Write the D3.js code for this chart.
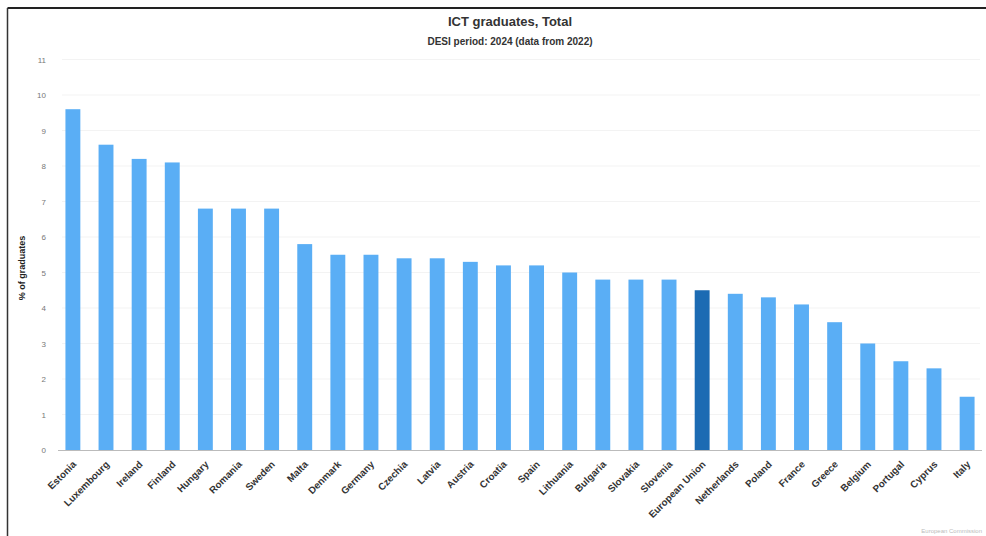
<!DOCTYPE html>
<html>
<head>
<meta charset="utf-8">
<script src="https://cdn.jsdelivr.net/npm/d3@7/dist/d3.min.js"></script>
<style>
  html, body { margin: 0; padding: 0; background: #fff; }
  svg { display: block; font-family: "Liberation Sans", Arial, sans-serif; }
</style>
</head>
<body>
<svg id="chart" width="986" height="536"></svg>
<script>
// ICT graduates as a share of all graduates, by country
const countries = ["Estonia", "Luxembourg", "Ireland", "Finland", "Hungary", "Romania", "Sweden",
  "Malta", "Denmark", "Germany", "Czechia", "Latvia", "Austria", "Croatia", "Spain", "Lithuania",
  "Bulgaria", "Slovakia", "Slovenia", "European Union", "Netherlands", "Poland", "France",
  "Greece", "Belgium", "Portugal", "Cyprus", "Italy"];
const values = [9.6, 8.6, 8.2, 8.1, 6.8, 6.8, 6.8, 5.8, 5.5, 5.5, 5.4, 5.4, 5.3, 5.2, 5.2, 5.0,
  4.8, 4.8, 4.8, 4.5, 4.4, 4.3, 4.1, 3.6, 3.0, 2.5, 2.3, 1.5];
const yTicks = [0, 1, 2, 3, 4, 5, 6, 7, 8, 9, 10, 11];
const highlight = "European Union";

const svg = d3.select("#chart");
const W = 986, H = 536;

// frame lines
svg.append("line").attr("x1", 7.5).attr("x2", W).attr("y1", 8).attr("y2", 8)
  .attr("stroke", "#222").attr("stroke-width", 2);
svg.append("line").attr("x1", 7.5).attr("x2", 7.5).attr("y1", 8).attr("y2", H)
  .attr("stroke", "#333").attr("stroke-width", 1.5);

const x = d3.scaleBand().domain(countries).range([56.5, 983.5]).paddingInner(0.55).paddingOuter(0.27);
const y = d3.scaleLinear().domain([0, 11]).range([450, 59.5]);

// grid
svg.append("g").selectAll("line").data(yTicks.filter(d => d > 0)).join("line")
  .attr("x1", 62).attr("x2", 980)
  .attr("y1", d => y(d)).attr("y2", d => y(d))
  .attr("stroke", "#f3f3f3").attr("stroke-width", 1);

// y axis labels
const yAxis = d3.axisLeft(y).tickValues(yTicks).tickSize(0).tickPadding(0);
const gy = svg.append("g").attr("transform", "translate(46,0)").call(yAxis);
gy.select(".domain").remove();
gy.selectAll("text").attr("fill", "#777").style("font-size", "8px");

// bars
svg.append("g").selectAll("rect").data(countries).join("rect")
  .attr("x", d => x(d))
  .attr("width", x.bandwidth())
  .attr("y", (d, i) => y(values[i]))
  .attr("height", (d, i) => y(0) - y(values[i]))
  .attr("fill", d => d === highlight ? "#1c6bb3" : "#5aaef5");

// baseline
svg.append("line").attr("x1", 58).attr("x2", 982).attr("y1", 450.5).attr("y2", 450.5)
  .attr("stroke", "#bbb").attr("stroke-width", 1);

// x axis labels
const xAxis = d3.axisBottom(x).tickSize(0).tickPadding(0);
const gx = svg.append("g").attr("transform", "translate(0,455)").call(xAxis);
gx.select(".domain").remove();
gx.selectAll("text")
  .attr("text-anchor", "end")
  .attr("dy", "0")
  .attr("transform", "translate(4,10) rotate(-45)")
  .attr("fill", "#333")
  .style("font-size", "9.8px")
  .style("font-weight", "bold");

// y axis title
svg.append("text")
  .attr("transform", "translate(25,268) rotate(-90)")
  .attr("text-anchor", "middle")
  .attr("fill", "#222")
  .style("font-size", "9px")
  .style("font-weight", "bold")
  .text("% of graduates");

// titles
svg.append("text").attr("x", 510).attr("y", 26).attr("text-anchor", "middle")
  .attr("fill", "#333").style("font-size", "13px").style("font-weight", "bold")
  .text("ICT graduates, Total");
svg.append("text").attr("x", 510).attr("y", 45).attr("text-anchor", "middle")
  .attr("fill", "#333").style("font-size", "10px").style("font-weight", "bold")
  .text("DESI period: 2024 (data from 2022)");

// credit
svg.append("text").attr("x", 982).attr("y", 533).attr("text-anchor", "end")
  .attr("fill", "#bbb").style("font-size", "6px")
  .text("European Commission");
</script>
</body>
</html>
